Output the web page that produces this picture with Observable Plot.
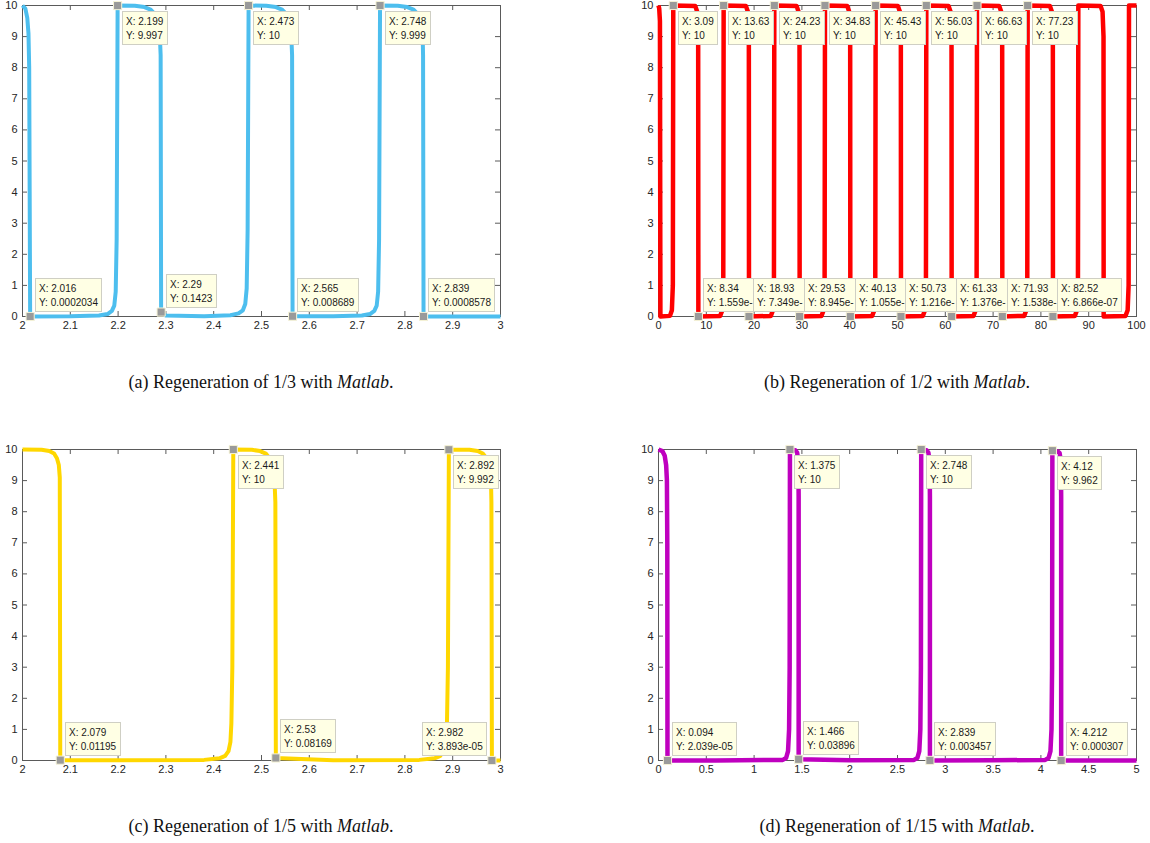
<!DOCTYPE html>
<html>
<head>
<meta charset="utf-8">
<script src="https://cdn.jsdelivr.net/npm/d3@7"></script>
<script src="https://cdn.jsdelivr.net/npm/@observablehq/plot@0.6"></script>
<style>
  html, body { margin: 0; padding: 0; background: #fff; }
  #page { position: relative; width: 1150px; height: 843px; background: #fff; overflow: hidden; }
  .panel { position: absolute; width: 520px; height: 340px; }
  .panel svg { max-width: none !important; display: block; }
  .cap { position: absolute; width: 522px; text-align: center; font-family: "Liberation Serif", "Times New Roman", serif; font-size: 18px; line-height: 20px; color: #111; white-space: nowrap; }
</style>
</head>
<body>
<div id="page">
  <div class="panel" id="pa" style="left:0px; top:0px"></div>
  <div class="panel" id="pb" style="left:636px; top:0px"></div>
  <div class="panel" id="pc" style="left:0px; top:444px"></div>
  <div class="panel" id="pd" style="left:636px; top:444px"></div>
  <div class="cap" style="left:0px; top:372px">(a) Regeneration of 1/3 with <i>Matlab</i>.</div>
  <div class="cap" style="left:636px; top:372px">(b) Regeneration of 1/2 with <i>Matlab</i>.</div>
  <div class="cap" style="left:0px; top:816px">(c) Regeneration of 1/5 with <i>Matlab</i>.</div>
  <div class="cap" style="left:636px; top:816px">(d) Regeneration of 1/15 with <i>Matlab</i>.</div>
</div>
<script>
// ---------- data ----------
const yTicks = [0, 1, 2, 3, 4, 5, 6, 7, 8, 9, 10];

// (a) 1/3
const aTicks = [2, 2.1, 2.2, 2.3, 2.4, 2.5, 2.6, 2.7, 2.8, 2.9, 3];
const aX = [2.000, 2.006, 2.010, 2.0125, 2.014, 2.015, 2.016,
  2.100, 2.160, 2.178, 2.187, 2.192, 2.195, 2.197, 2.199,
  2.235, 2.255, 2.268, 2.277, 2.283, 2.287, 2.289, 2.290,
  2.300, 2.380, 2.435, 2.452, 2.461, 2.466, 2.469, 2.471, 2.473,
  2.510, 2.530, 2.543, 2.552, 2.558, 2.562, 2.564, 2.565,
  2.650, 2.710, 2.727, 2.736, 2.741, 2.744, 2.746, 2.748,
  2.785, 2.805, 2.818, 2.827, 2.833, 2.837, 2.838, 2.839,
  2.920, 3.000];
const aY = [10, 9.9, 9.6, 9.1, 8, 4, 0.0002,
  0.005, 0.03, 0.08, 0.18, 0.35, 0.8, 2.5, 9.997,
  9.99, 9.95, 9.87, 9.72, 9.5, 9.15, 8.4, 0.1423,
  0.03, 0.01, 0.04, 0.1, 0.2, 0.4, 0.9, 2.8, 10,
  9.99, 9.95, 9.87, 9.72, 9.5, 9.15, 8.4, 0.008689,
  0.005, 0.03, 0.08, 0.18, 0.35, 0.8, 2.5, 9.999,
  9.99, 9.95, 9.87, 9.72, 9.5, 9.15, 8.4, 0.0008578,
  0.001, 0.004];
const aTipX = [2.016, 2.199, 2.29, 2.473, 2.565, 2.748, 2.839];
const aTipY = [0.0002034, 9.997, 0.1423, 10, 0.008689, 9.999, 0.0008578];
const aTipXLabel = ["2.016", "2.199", "2.29", "2.473", "2.565", "2.748", "2.839"];
const aTipYLabel = ["0.0002034", "9.997", "0.1423", "10", "0.008689", "9.999", "0.0008578"];
const aTipSide = ["ur", "dr", "ur", "dr", "ur", "dr", "ur"];

// (b) 1/2
const bTicks = [0, 10, 20, 30, 40, 50, 60, 70, 80, 90, 100];
const bX = [0, 0.15, 0.3, 0.4,
  2.4, 2.8, 3.0, 3.09, 7.7, 8.1, 8.3, 8.34,
  12.9, 13.35, 13.55, 13.63, 18.3, 18.7, 18.9, 18.93,
  23.5, 23.95, 24.15, 24.23, 28.9, 29.3, 29.5, 29.53,
  34.1, 34.55, 34.75, 34.83, 39.5, 39.9, 40.1, 40.13,
  44.7, 45.15, 45.35, 45.43, 50.1, 50.5, 50.7, 50.73,
  55.3, 55.75, 55.95, 56.03, 60.7, 61.1, 61.3, 61.33,
  65.9, 66.35, 66.55, 66.63, 71.3, 71.7, 71.9, 71.93,
  76.5, 76.95, 77.15, 77.23, 81.9, 82.3, 82.5, 82.52,
  87.1, 87.55, 87.75, 87.83, 92.5, 92.9, 93.1, 93.13,
  97.7, 98.15, 98.35, 98.43, 100];
const bY = [10, 9.9, 9.5, 0,
  0.02, 0.2, 1, 10, 9.98, 9.8, 9, 0,
  0.02, 0.2, 1, 10, 9.98, 9.8, 9, 0,
  0.02, 0.2, 1, 10, 9.98, 9.8, 9, 0,
  0.02, 0.2, 1, 10, 9.98, 9.8, 9, 0,
  0.02, 0.2, 1, 10, 9.98, 9.8, 9, 0,
  0.02, 0.2, 1, 10, 9.98, 9.8, 9, 0,
  0.02, 0.2, 1, 10, 9.98, 9.8, 9, 0,
  0.02, 0.2, 1, 10, 9.98, 9.8, 9, 0,
  0.02, 0.2, 1, 10, 9.98, 9.8, 9, 0,
  0.02, 0.2, 1, 10, 10];
const bTipX = [3.09, 13.63, 24.23, 34.83, 45.43, 56.03, 66.63, 77.23,
  8.34, 18.93, 29.53, 40.13, 50.73, 61.33, 71.93, 82.52];
const bTipY = [10, 10, 10, 10, 10, 10, 10, 10, 0, 0, 0, 0, 0, 0, 0, 0];
const bTipXLabel = ["3.09", "13.63", "24.23", "34.83", "45.43", "56.03", "66.63", "77.23",
  "8.34", "18.93", "29.53", "40.13", "50.73", "61.33", "71.93", "82.52"];
const bTipYLabel = ["10", "10", "10", "10", "10", "10", "10", "10",
  "1.559e-", "7.349e-", "8.945e-", "1.055e-", "1.216e-", "1.376e-", "1.538e-", "6.866e-07"];
const bTipSide = ["dr", "dr", "dr", "dr", "dr", "dr", "dr", "dr",
  "ur", "ur", "ur", "ur", "ur", "ur", "ur", "ur"];

// (c) 1/5
const cTicks = [2, 2.1, 2.2, 2.3, 2.4, 2.5, 2.6, 2.7, 2.8, 2.9, 3];
const cX = [2.000, 2.040, 2.056, 2.066, 2.072, 2.076, 2.078, 2.079,
  2.200, 2.380, 2.412, 2.424, 2.431, 2.435, 2.437, 2.439, 2.441,
  2.480, 2.497, 2.509, 2.517, 2.523, 2.527, 2.529, 2.530,
  2.650, 2.830, 2.862, 2.874, 2.881, 2.885, 2.888, 2.890, 2.892,
  2.935, 2.952, 2.963, 2.971, 2.976, 2.980, 2.981, 2.982,
  3.000];
const cY = [10, 9.99, 9.95, 9.87, 9.72, 9.5, 9.1, 0.01195,
  0.005, 0.02, 0.07, 0.15, 0.3, 0.6, 1.2, 3, 10,
  9.99, 9.95, 9.87, 9.72, 9.5, 9.1, 8.3, 0.08169,
  0.01, 0.02, 0.07, 0.15, 0.3, 0.6, 1.2, 3, 9.992,
  9.99, 9.95, 9.87, 9.72, 9.5, 9.1, 8.3, 0.00004,
  0.00004];
const cTipX = [2.079, 2.441, 2.53, 2.892, 2.982];
const cTipY = [0.01195, 10, 0.08169, 9.992, 3.893e-05];
const cTipXLabel = ["2.079", "2.441", "2.53", "2.892", "2.982"];
const cTipYLabel = ["0.01195", "10", "0.08169", "9.992", "3.893e-05"];
const cTipSide = ["ur", "dr", "ur", "dr", "ul"];

// (d) 1/15
const dTicks = [0, 0.5, 1, 1.5, 2, 2.5, 3, 3.5, 4, 4.5, 5];
const dX = [0, 0.040, 0.065, 0.080, 0.088, 0.092, 0.094,
  0.600, 1.300, 1.335, 1.355, 1.366, 1.372, 1.375,
  1.430, 1.450, 1.459, 1.464, 1.466, 1.466,
  2.000, 2.673, 2.708, 2.728, 2.739, 2.745, 2.748,
  2.803, 2.823, 2.832, 2.837, 2.839, 2.839,
  3.500, 4.045, 4.080, 4.100, 4.111, 4.117, 4.120,
  4.176, 4.196, 4.205, 4.210, 4.212, 4.212,
  5.000];
const dY = [10, 9.95, 9.8, 9.5, 9, 7, 0.00002,
  0.002, 0.02, 0.08, 0.3, 1, 3, 10,
  9.98, 9.9, 9.7, 9.3, 8.5, 0.03896,
  0.005, 0.02, 0.08, 0.3, 1, 3, 10,
  9.98, 9.9, 9.7, 9.3, 8.5, 0.003457,
  0.005, 0.02, 0.08, 0.3, 1, 3, 9.962,
  9.94, 9.88, 9.7, 9.3, 8.5, 0.000307,
  0.0003];
const dTipX = [0.094, 1.375, 1.466, 2.748, 2.839, 4.12, 4.212];
const dTipY = [2.039e-05, 10, 0.03896, 10, 0.003457, 9.962, 0.000307];
const dTipXLabel = ["0.094", "1.375", "1.466", "2.748", "2.839", "4.12", "4.212"];
const dTipYLabel = ["2.039e-05", "10", "0.03896", "10", "0.003457", "9.962", "0.000307"];
const dTipSide = ["ur", "dr", "ur", "dr", "ur", "dr", "ur"];

// ---------- drawing ----------
const W = 520, H = 340, ML = 22, MR = 20, MT = 5, MB = 24;
const PW = W - ML - MR, PH = H - MT - MB;
const AXIS = "#5a5a5a";
const TIPFONT = "10px 'Liberation Sans', Arial, Helvetica, sans-serif";
const ctx = document.createElement("canvas").getContext("2d");
ctx.font = TIPFONT;
const measure = (s) => ctx.measureText(s).width;
const SVGNS = "http://www.w3.org/2000/svg";

function tipMark(tx, ty, lx, ly, side) {
  return (index, scales) => {
    const g = document.createElementNS(SVGNS, "g");
    g.setAttribute("text-anchor", "start");
    tx.forEach((x, i) => {
      const px = scales.x(x), py = scales.y(ty[i]);
      const l1 = "X: " + lx[i], l2 = "Y: " + ly[i];
      const w = Math.ceil(Math.max(measure(l1), measure(l2))) + 7;
      const h = 33;
      const s = side[i];
      const left = s.endsWith("r") ? px + 5 : px - 5 - w;
      const top = s.startsWith("d") ? py + 6 : py - 5 - h;
      const r = document.createElementNS(SVGNS, "rect");
      r.setAttribute("x", Math.round(left) + 0.5); r.setAttribute("y", Math.round(top) + 0.5);
      r.setAttribute("width", w); r.setAttribute("height", h);
      r.setAttribute("fill", "#ffffe4"); r.setAttribute("stroke", "#cfcfc4");
      r.setAttribute("stroke-width", "1");
      g.appendChild(r);
      [l1, l2].forEach((t, k) => {
        const te = document.createElementNS(SVGNS, "text");
        te.setAttribute("x", Math.round(left) + 4);
        te.setAttribute("y", Math.round(top) + 14 + k * 14);
        te.setAttribute("text-anchor", "start");
        te.setAttribute("font-family", "'Liberation Sans', Arial, Helvetica, sans-serif");
        te.setAttribute("font-size", "10px");
        te.setAttribute("fill", "#1a1a1a");
        te.textContent = t;
        g.appendChild(te);
      });
    });
    return g;
  };
}

function panel(id, cfg) {
  const data = cfg.X.map((x, i) => ({x, y: cfg.Y[i]}));
  const tips = cfg.tipX.map((x, i) => ({x, y: cfg.tipY[i]}));
  const plot = Plot.plot({
    width: W, height: H,
    marginLeft: ML, marginRight: MR, marginTop: MT, marginBottom: MB,
    style: {fontFamily: "'Liberation Sans', Arial, Helvetica, sans-serif", fontSize: "11px", color: "#262626", background: "white", overflow: "visible", maxWidth: "none"},
    x: {domain: cfg.domain, ticks: cfg.ticks, tickFormat: (d) => String(d), tickSize: 0, tickPadding: 5, label: null},
    y: {domain: [0, 10], ticks: yTicks, tickFormat: (d) => String(d), tickSize: 0, tickPadding: 5, label: null},
    marks: [
      Plot.frame({stroke: AXIS, strokeWidth: 1}),
      Plot.tickX(cfg.ticks, {x: (d) => d, stroke: AXIS, insetTop: PH - 5}),
      Plot.tickX(cfg.ticks, {x: (d) => d, stroke: AXIS, insetBottom: PH - 5}),
      Plot.tickY(yTicks, {y: (d) => d, stroke: AXIS, insetLeft: PW - 5}),
      Plot.tickY(yTicks, {y: (d) => d, stroke: AXIS, insetRight: PW - 5}),
      Plot.line(data, {x: "x", y: "y", stroke: cfg.color, strokeWidth: cfg.sw, strokeLinejoin: "round", strokeLinecap: "butt"}),
      tipMark(cfg.tipX, cfg.tipY, cfg.tipXL, cfg.tipYL, cfg.side),
      Plot.dot(tips, {x: "x", y: "y", symbol: "square", r: 4.6, fill: "#9a9a9a", stroke: "#f6f3d6", strokeWidth: 1})
    ]
  });
  plot.style.maxWidth = "none";
  document.getElementById(id).appendChild(plot);
}

panel("pa", {X: aX, Y: aY, domain: [2, 3], ticks: aTicks, color: "#4dbeee", sw: 4,
  tipX: aTipX, tipY: aTipY, tipXL: aTipXLabel, tipYL: aTipYLabel, side: aTipSide});
panel("pb", {X: bX, Y: bY, domain: [0, 100], ticks: bTicks, color: "#ff0000", sw: 4.5,
  tipX: bTipX, tipY: bTipY, tipXL: bTipXLabel, tipYL: bTipYLabel, side: bTipSide});
panel("pc", {X: cX, Y: cY, domain: [2, 3], ticks: cTicks, color: "#ffd700", sw: 4,
  tipX: cTipX, tipY: cTipY, tipXL: cTipXLabel, tipYL: cTipYLabel, side: cTipSide});
panel("pd", {X: dX, Y: dY, domain: [0, 5], ticks: dTicks, color: "#bf00bf", sw: 4.5,
  tipX: dTipX, tipY: dTipY, tipXL: dTipXLabel, tipYL: dTipYLabel, side: dTipSide});
</script>
</body>
</html>
